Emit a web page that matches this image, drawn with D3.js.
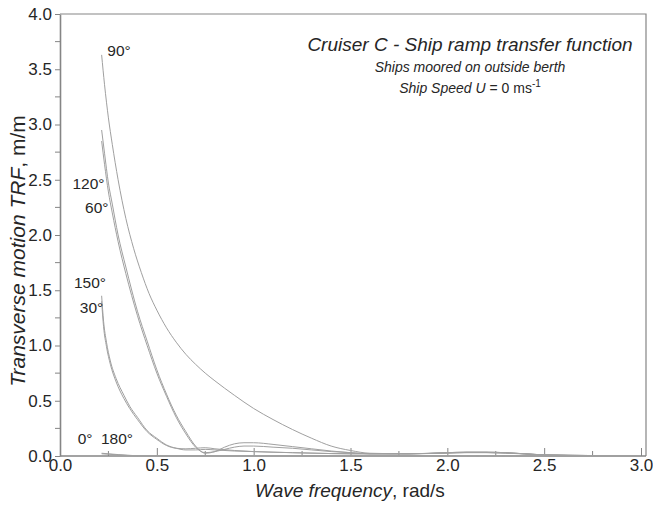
<!DOCTYPE html>
<html>
<head>
<meta charset="utf-8">
<script src="https://cdn.jsdelivr.net/npm/d3@7"></script>
<style>
  html, body { margin: 0; padding: 0; background: #fff; }
  svg { display: block; font-family: "Liberation Sans", Arial, sans-serif; }
</style>
</head>
<body>
<svg id="chart" width="653" height="506"></svg>
<script>
// Transverse motion transfer function per wave heading (frequency in rad/s, TRF in m/m)
const freq90  = [0.215, 0.23, 0.25, 0.27, 0.30, 0.34, 0.38, 0.42, 0.46, 0.50, 0.55, 0.60, 0.65, 0.70, 0.75, 0.80, 0.90, 1.00, 1.10, 1.20, 1.30, 1.40, 1.50, 1.60, 1.80, 2.00, 2.10, 2.20, 2.40, 2.50, 2.75, 3.00];
const trf90   = [3.63, 3.36, 3.06, 2.82, 2.50, 2.15, 1.88, 1.66, 1.47, 1.32, 1.16, 1.03, 0.92, 0.83, 0.75, 0.68, 0.55, 0.43, 0.33, 0.24, 0.16, 0.09, 0.05, 0.025, 0.02, 0.03, 0.035, 0.035, 0.02, 0.01, 0.004, 0.0];

const freq120 = [0.215, 0.23, 0.25, 0.27, 0.30, 0.34, 0.40, 0.45, 0.50, 0.55, 0.60, 0.65, 0.70, 0.75, 0.80, 0.85, 0.90, 0.95, 1.00, 1.10, 1.20, 1.30, 1.40, 1.50, 1.60, 1.80, 2.00, 2.10, 2.20, 2.40, 2.50, 2.75, 3.00];
const trf120  = [2.95, 2.74, 2.47, 2.28, 2.00, 1.71, 1.31, 1.04, 0.78, 0.56, 0.37, 0.22, 0.09, 0.025, 0.04, 0.08, 0.11, 0.12, 0.12, 0.105, 0.085, 0.065, 0.045, 0.03, 0.02, 0.02, 0.03, 0.035, 0.035, 0.02, 0.01, 0.004, 0.0];

const freq60  = [0.215, 0.23, 0.25, 0.27, 0.30, 0.34, 0.40, 0.45, 0.50, 0.55, 0.60, 0.65, 0.70, 0.75, 0.80, 0.85, 0.90, 0.95, 1.00, 1.10, 1.20, 1.30, 1.40, 1.50, 1.60, 1.80, 2.00, 2.10, 2.20, 2.40, 2.50, 2.75, 3.00];
const trf60   = [2.85, 2.64, 2.39, 2.20, 1.94, 1.65, 1.27, 1.00, 0.75, 0.54, 0.35, 0.20, 0.08, 0.03, 0.04, 0.06, 0.08, 0.09, 0.09, 0.08, 0.07, 0.055, 0.04, 0.03, 0.02, 0.02, 0.028, 0.032, 0.032, 0.02, 0.01, 0.004, 0.0];

const freq150 = [0.215, 0.225, 0.24, 0.26, 0.29, 0.33, 0.36, 0.40, 0.45, 0.50, 0.55, 0.60, 0.65, 0.70, 0.75, 0.80, 0.90, 1.00, 1.20, 1.40, 1.50, 1.60, 1.80, 2.00, 2.10, 2.20, 2.40, 2.50, 2.75, 3.00];
const trf150  = [1.45, 1.22, 1.03, 0.86, 0.70, 0.55, 0.45, 0.35, 0.23, 0.16, 0.10, 0.07, 0.055, 0.055, 0.06, 0.055, 0.045, 0.04, 0.03, 0.022, 0.02, 0.02, 0.02, 0.028, 0.032, 0.032, 0.02, 0.01, 0.004, 0.0];

const freq30  = [0.215, 0.225, 0.24, 0.26, 0.29, 0.33, 0.36, 0.40, 0.45, 0.50, 0.55, 0.60, 0.65, 0.70, 0.75, 0.80, 0.90, 1.00, 1.20, 1.40, 1.50, 1.60, 1.80, 2.00, 2.10, 2.20, 2.40, 2.50, 2.75, 3.00];
const trf30   = [1.40, 1.17, 0.99, 0.83, 0.67, 0.52, 0.43, 0.33, 0.22, 0.15, 0.095, 0.07, 0.065, 0.07, 0.075, 0.065, 0.05, 0.04, 0.03, 0.022, 0.02, 0.02, 0.02, 0.026, 0.03, 0.03, 0.018, 0.008, 0.003, 0.0];

const freq0   = [0.215, 0.25, 0.30, 0.35, 0.40, 0.60, 1.00, 1.50, 2.00, 2.50, 3.00];
const trf0    = [0.025, 0.02, 0.013, 0.007, 0.003, 0.002, 0.002, 0.002, 0.002, 0.001, 0.0];

const freq180 = [0.215, 0.25, 0.30, 0.35, 0.40, 0.60, 1.00, 1.50, 2.00, 2.50, 3.00];
const trf180  = [0.02, 0.016, 0.01, 0.005, 0.002, 0.001, 0.001, 0.001, 0.001, 0.001, 0.0];

const headings = [
  { label: "90°",  f: freq90,  v: trf90  },
  { label: "120°", f: freq120, v: trf120 },
  { label: "60°",  f: freq60,  v: trf60  },
  { label: "150°", f: freq150, v: trf150 },
  { label: "30°",  f: freq30,  v: trf30  },
  { label: "0°",   f: freq0,   v: trf0   },
  { label: "180°", f: freq180, v: trf180 }
];

// Heading labels placed beside the start of each curve: [label, frequency, TRF]
const curveLabels = [
  ["90°",  0.305, 3.67],
  ["120°", 0.147, 2.47],
  ["60°",  0.19,  2.25],
  ["150°", 0.155, 1.57],
  ["30°",  0.163, 1.34],
  ["0°",   0.13,  0.16],
  ["180°", 0.294, 0.16]
];

const xTicks = [0, 0.5, 1.0, 1.5, 2.0, 2.5, 3.0];
const yTicks = [0, 0.5, 1.0, 1.5, 2.0, 2.5, 3.0, 3.5, 4.0];

const svg = d3.select("#chart");
const plotLeft = 60, plotRight = 646, plotTop = 14, plotBottom = 456;

const x = d3.scaleLinear().domain([0, 3]).range([plotLeft, 641]);
const y = d3.scaleLinear().domain([0, 4]).range([plotBottom, plotTop]);

const axisColor = "#858585";
const textColor = "#262626";

// frame (top and right edges)
svg.append("path")
  .attr("d", `M${plotLeft},${plotTop}H${plotRight}V${plotBottom}`)
  .attr("fill", "none").attr("stroke", axisColor).attr("stroke-width", 1.2);

// x axis: ticks pointing inward
const xAxis = svg.append("g").attr("transform", `translate(0,${plotBottom})`)
  .call(d3.axisBottom(x).tickValues(xTicks).tickFormat(d3.format(".1f")).tickSizeInner(-8).tickSizeOuter(0).tickPadding(3));
xAxis.append("g").selectAll("line").data(d3.range(0.25, 3.0, 0.5)).join("line")
  .attr("x1", d => x(d)).attr("x2", d => x(d)).attr("y1", 0).attr("y2", -5)
  .attr("stroke", axisColor);
xAxis.select(".domain").attr("d", `M${plotLeft},0H${plotRight}`);

// y axis: ticks pointing outward
const yAxis = svg.append("g").attr("transform", `translate(${plotLeft},0)`)
  .call(d3.axisLeft(y).tickValues(yTicks).tickFormat(d3.format(".1f")).tickSizeInner(5).tickSizeOuter(0).tickPadding(3));
yAxis.append("g").selectAll("line").data(d3.range(0.25, 4.0, 0.5)).join("line")
  .attr("x1", 0).attr("x2", -5).attr("y1", d => y(d)).attr("y2", d => y(d))
  .attr("stroke", axisColor);

[xAxis, yAxis].forEach(g => {
  g.selectAll(".domain").attr("stroke", axisColor).attr("stroke-width", 1.6);
  g.selectAll(".tick line").attr("stroke", axisColor);
  g.selectAll("text").attr("fill", textColor).style("font-size", "17px")
    .style("font-family", '"Liberation Sans", Arial, sans-serif');
});

// curves
const line = d3.line().x(d => x(d[0])).y(d => y(d[1])).curve(d3.curveMonotoneX);
svg.append("g").selectAll("path").data(headings).join("path")
  .attr("d", h => line(h.f.map((f, i) => [f, h.v[i]])))
  .attr("fill", "none").attr("stroke", "#a0a0a0").attr("stroke-width", 1);

// heading labels
svg.append("g").selectAll("text").data(curveLabels).join("text")
  .attr("x", d => x(d[1])).attr("y", d => y(d[2]))
  .attr("text-anchor", "middle").attr("dominant-baseline", "central")
  .attr("fill", textColor).style("font-size", "15.5px")
  .text(d => d[0]);

// titles
const cx = 470;
svg.append("text").attr("x", cx).attr("y", 51).attr("text-anchor", "middle")
  .attr("fill", textColor).style("font-size", "19px").style("font-style", "italic")
  .text("Cruiser C - Ship ramp transfer function");
svg.append("text").attr("x", cx).attr("y", 72).attr("text-anchor", "middle")
  .attr("fill", textColor).style("font-size", "14px").style("font-style", "italic")
  .text("Ships moored on outside berth");
const sub2 = svg.append("text").attr("x", cx).attr("y", 93).attr("text-anchor", "middle")
  .attr("fill", textColor).style("font-size", "14px");
sub2.append("tspan").style("font-style", "italic").text("Ship Speed U");
sub2.append("tspan").text(" = 0 ms");
sub2.append("tspan").attr("dy", -6).style("font-size", "10px").text("-1");

// axis titles
const xt = svg.append("text").attr("x", 350).attr("y", 497).attr("text-anchor", "middle")
  .attr("fill", textColor).style("font-size", "19px");
xt.append("tspan").style("font-style", "italic").text("Wave frequency");
xt.append("tspan").text(", rad/s");

const yt = svg.append("text").attr("transform", "translate(25,251) rotate(-90)")
  .attr("text-anchor", "middle").attr("fill", textColor).style("font-size", "21px");
yt.append("tspan").style("font-style", "italic").text("Transverse motion TRF");
yt.append("tspan").text(", m/m");
</script>
</body>
</html>
